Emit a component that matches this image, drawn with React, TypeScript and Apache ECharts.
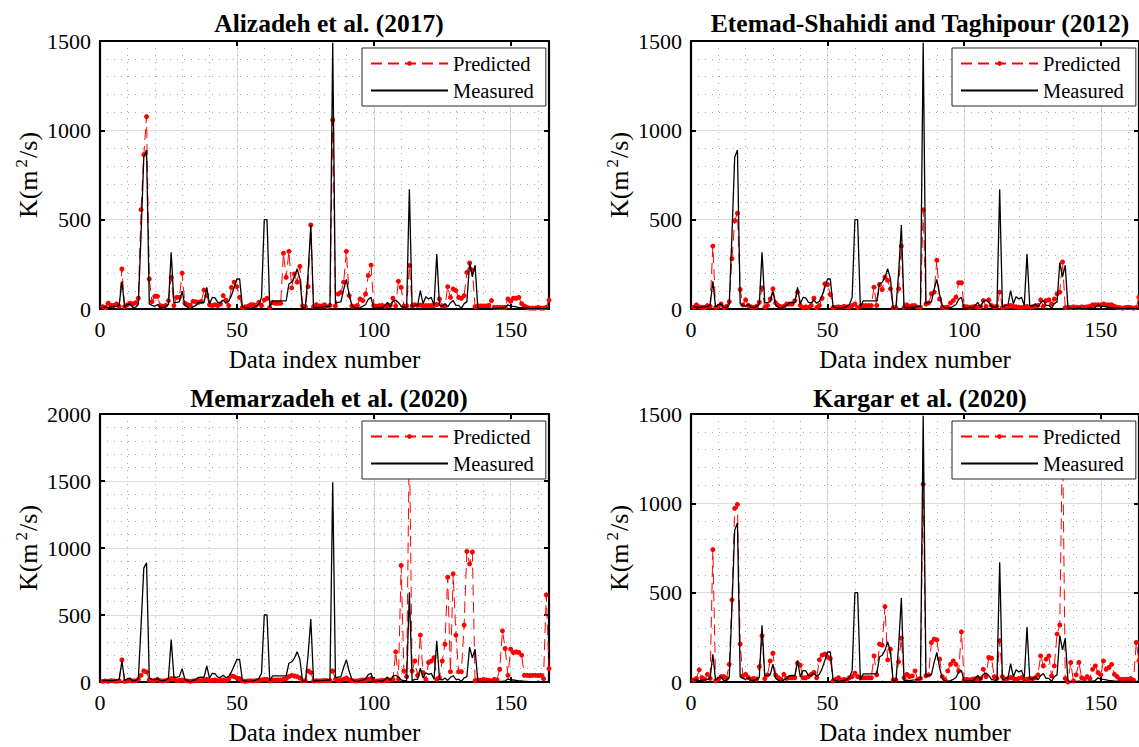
import React, { useEffect, useRef } from "react";
import * as echarts from "echarts";

// Data index numbers 1..164 (x values)
const X_MAX = 164;

// Measured K (m^2/s), shared by the four panels
const measured = [
  10, 12, 8, 10, 12, 15, 20, 155, 10, 25,
  28, 8, 10, 25, 420, 850, 890, 30, 20, 15,
  25, 10, 8, 15, 25, 317, 35, 37, 40, 100,
  20, 10, 0, 12, 20, 35, 37, 35, 121, 28,
  65, 62, 37, 35, 50, 32, 43, 75, 121, 168,
  168, 13, 8, 5, 5, 8, 15, 25, 65, 500,
  500, 10, 45, 45, 45, 45, 45, 45, 140, 150,
  177, 225, 170, 5, 5, 200, 470, 5, 10, 8,
  10, 12, 15, 15, 1490, 32, 37, 40, 110, 165,
  80, 20, 5, 5, 8, 15, 25, 55, 65, 2,
  5, 8, 5, 18, 37, 10, 43, 50, 37, 15,
  10, 10, 670, 10, 20, 20, 103, 30, 69, 56,
  65, 20, 308, 20, 15, 30, 12, 35, 47, 20,
  20, 5, 30, 40, 260, 180, 245, 5, 3, 2,
  3, 5, 3, 2, 3, 5, 5, 8, 24, 15,
  15, 12, 8, 8, 5, 5, 3, 2, 3, 5,
  3, 2, 3, 5,
];

// Predicted: Alizadeh et al. (2017)
const predAlizadeh = [
  13, 8, 32, 20, 20, 28, 15, 224, 13, 24,
  32, 28, 35, 60, 556, 864, 1077, 168, 41, 71,
  71, 19, 15, 20, 47, 177, 19, 65, 65, 201,
  32, 24, 20, 43, 40, 38, 42, 106, 75, 24,
  19, 24, 19, 28, 75, 50, 19, 121, 150, 125,
  65, 9, 12, 15, 24, 24, 20, 37, 19, 50,
  60, 9, 37, 32, 32, 32, 312, 177, 323, 118,
  196, 150, 239, 17, 13, 125, 470, 13, 24, 17,
  17, 24, 13, 20, 1058, 17, 84, 93, 150, 323,
  75, 17, 13, 20, 56, 47, 84, 187, 246, 19,
  15, 18, 20, 15, 18, 20, 60, 17, 155, 121,
  17, 17, 243, 17, 24, 20, 22, 18, 19, 19,
  19, 19, 25, 56, 17, 17, 125, 65, 112, 103,
  65, 60, 75, 205, 258, 218, 13, 17, 17, 17,
  17, 20, 47, 9, 9, 9, 9, 9, 56, 43,
  60, 60, 65, 30, 17, 9, 5, 5, 5, 9,
  5, 5, 9, 50,
];

// Predicted: Etemad-Shahidi and Taghipour (2012)
const predEtemad = [
  10, 23, 12, 10, 8, 19, 15, 352, 8, 15,
  28, 8, 15, 41, 282, 494, 536, 109, 23, 51,
  20, 12, 10, 15, 38, 118, 9, 20, 56, 113,
  34, 19, 12, 15, 28, 28, 28, 47, 94, 20,
  8, 12, 8, 20, 60, 8, 20, 60, 141, 137,
  81, 8, 10, 12, 10, 15, 12, 10, 19, 28,
  8, 15, 19, 19, 19, 19, 122, 20, 137, 109,
  179, 160, 113, 8, 8, 113, 352, 8, 23, 15,
  19, 19, 9, 9, 555, 28, 34, 85, 94, 273,
  56, 10, 8, 10, 34, 47, 66, 147, 147, 15,
  12, 10, 12, 15, 10, 12, 47, 15, 51, 19,
  12, 15, 94, 8, 15, 12, 20, 15, 12, 10,
  8, 12, 15, 10, 12, 15, 20, 51, 15, 47,
  51, 28, 56, 85, 94, 263, 8, 10, 8, 12,
  10, 8, 12, 10, 12, 15, 23, 23, 23, 23,
  28, 23, 23, 23, 15, 10, 8, 5, 8, 10,
  8, 5, 8, 66,
];

// Predicted: Memarzadeh et al. (2020)
const predMemarzadeh = [
  5, 8, 5, 10, 8, 5, 8, 165, 5, 8,
  10, 8, 10, 20, 50, 82, 75, 15, 10, 12,
  20, 10, 8, 10, 15, 25, 25, 10, 12, 15,
  10, 8, 5, 8, 10, 12, 10, 15, 20, 10,
  12, 15, 10, 12, 15, 10, 20, 45, 40, 30,
  25, 8, 5, 8, 10, 8, 10, 12, 15, 20,
  20, 8, 15, 15, 15, 15, 20, 25, 40, 50,
  45, 40, 30, 8, 10, 82, 70, 8, 10, 8,
  10, 12, 10, 10, 82, 20, 12, 15, 20, 30,
  15, 10, 8, 8, 12, 15, 12, 20, 25, 10,
  8, 10, 12, 10, 12, 15, 20, 225, 20, 870,
  82, 40, 1850, 82, 157, 50, 350, 70, 20, 145,
  157, 182, 20, 32, 157, 282, 782, 77, 807, 350,
  77, 77, 425, 975, 882, 970, 10, 15, 12, 20,
  15, 12, 10, 20, 15, 95, 382, 250, 50, 245,
  220, 225, 220, 200, 50, 50, 48, 50, 50, 48,
  50, 25, 650, 100,
];

// Predicted: Kargar et al. (2020)
const predKargar = [
  11, 20, 68, 24, 15, 43, 20, 741, 6, 15,
  30, 30, 20, 99, 460, 972, 994, 212, 34, 43,
  25, 15, 20, 15, 86, 259, 19, 40, 118, 161,
  38, 24, 15, 43, 20, 24, 24, 24, 105, 94,
  24, 24, 30, 43, 53, 24, 124, 150, 156, 140,
  131, 6, 15, 24, 11, 15, 11, 24, 30, 49,
  30, 24, 24, 24, 24, 24, 146, 40, 212, 206,
  422, 124, 184, 11, 11, 113, 246, 24, 43, 30,
  34, 62, 15, 20, 1107, 34, 40, 221, 240, 236,
  128, 30, 11, 62, 99, 118, 99, 62, 281, 11,
  15, 12, 15, 18, 15, 20, 71, 30, 137, 133,
  30, 20, 231, 30, 15, 20, 25, 20, 15, 20,
  24, 15, 15, 20, 18, 24, 40, 146, 90, 128,
  146, 34, 90, 268, 319, 1400, 20, 0, 109, 6,
  40, 109, 24, 15, 30, 20, 71, 90, 53, 40,
  118, 71, 81, 99, 43, 30, 15, 15, 15, 15,
  19, 10, 221, 120,
];

const titles = [
  "Alizadeh et al. (2017)",
  "Etemad-Shahidi and Taghipour (2012)",
  "Memarzadeh et al. (2020)",
  "Kargar et al. (2020)",
];
const yMaxes = [1500, 1500, 2000, 1500];
const predictions = [predAlizadeh, predEtemad, predMemarzadeh, predKargar];

const FONT = "'Liberation Serif', 'Times New Roman', serif";

const layout = [
  { left: 100, top: 41, width: 449, height: 268, titleX: 324, titleY: 5, legendX: 362, legendY: 48 },
  { left: 691, top: 41, width: 448, height: 268, titleX: 915, titleY: 5, legendX: 952, legendY: 48 },
  { left: 100, top: 414, width: 449, height: 268, titleX: 324, titleY: 380, legendX: 362, legendY: 421 },
  { left: 691, top: 414, width: 448, height: 268, titleX: 915, titleY: 380, legendX: 952, legendY: 421 },
];

function buildOption() {
  const option: any = {
    animation: false,
    backgroundColor: "#ffffff",
    title: [],
    grid: [],
    xAxis: [],
    yAxis: [],
    legend: [],
    series: [],
  };
  const frame = { show: true, onZero: false, lineStyle: { color: "#000", width: 2.2 } };
  const tick = { show: true, inside: true, length: 5, lineStyle: { color: "#000", width: 2 } };
  const minorDots = { color: "#a8a8a8", width: 1, type: [1, 6] };
  layout.forEach((L, k) => {
    option.title.push({
      text: titles[k],
      left: L.titleX,
      top: L.titleY,
      textAlign: "center",
      textStyle: { fontFamily: FONT, fontWeight: "bold", fontSize: 25.5, color: "#000" },
    });
    option.grid.push({ left: L.left, top: L.top, width: L.width, height: L.height, containLabel: false });
    // bottom x axis (labels, major grid)
    option.xAxis.push({
      type: "value", gridIndex: k, min: 0, max: X_MAX, interval: 50, position: "bottom",
      name: "Data index number", nameLocation: "middle", nameGap: 38,
      nameTextStyle: { fontFamily: FONT, fontSize: 25, color: "#000" },
      axisLine: frame, axisTick: tick,
      axisLabel: { show: true, fontFamily: FONT, fontSize: 22, color: "#000", margin: 9, showMaxLabel: false },
      splitLine: { show: true, lineStyle: { color: "#dcdcdc", width: 1 } },
    });
    // top x axis (frame + ticks)
    option.xAxis.push({
      type: "value", gridIndex: k, min: 0, max: X_MAX, interval: 50, position: "top",
      axisLine: frame, axisTick: tick, axisLabel: { show: false }, splitLine: { show: false },
    });
    // hidden x axis for dotted minor grid
    option.xAxis.push({
      type: "value", gridIndex: k, min: 0, max: X_MAX, interval: 10,
      axisLine: { show: false }, axisTick: { show: false }, axisLabel: { show: false },
      splitLine: { show: true, lineStyle: minorDots },
    });
    // left y axis
    option.yAxis.push({
      type: "value", gridIndex: k, min: 0, max: yMaxes[k], interval: 500, position: "left",
      name: "{a|K(m}{s|2}{a|/s)}", nameLocation: "middle", nameGap: 57, nameRotate: 90,
      nameTextStyle: {
        fontFamily: FONT, fontSize: 26, color: "#000",
        rich: {
          a: { fontFamily: FONT, fontSize: 26, color: "#000", lineHeight: 30 },
          s: { fontFamily: FONT, fontSize: 17, color: "#000", lineHeight: 30, verticalAlign: "top", padding: [0, 1, 0, 3] },
        },
      },
      axisLine: frame, axisTick: tick,
      axisLabel: { show: true, fontFamily: FONT, fontSize: 22, color: "#000", margin: 9, formatter: (v: number) => String(v) },
      splitLine: { show: true, lineStyle: { color: "#dcdcdc", width: 1 } },
      minorTick: { show: false, splitNumber: 5 },
      minorSplitLine: { show: true, lineStyle: minorDots },
    });
    // right y axis (frame + ticks)
    option.yAxis.push({
      type: "value", gridIndex: k, min: 0, max: yMaxes[k], interval: 500, position: "right",
      axisLine: frame, axisTick: tick, axisLabel: { show: false }, splitLine: { show: false },
    });
    option.legend.push({
      left: L.legendX, top: L.legendY, orient: "vertical",
      data: [
        { name: "Predicted" },
        { name: "Measured", itemStyle: { opacity: 0 } },
      ],
      itemWidth: 77, itemHeight: 6, itemGap: 6, padding: [5, 12, 5, 8],
      backgroundColor: "#ffffff", borderColor: "#262626", borderWidth: 1, borderRadius: 0,
      textStyle: { fontFamily: FONT, fontSize: 20.5, color: "#000" },
      selectedMode: false, z: 10,
    });
    option.series.push({
      type: "line", name: "Predicted", xAxisIndex: 3 * k, yAxisIndex: 2 * k,
      data: predictions[k].map((v, i) => [i + 1, v]),
      symbol: "circle", symbolSize: 5, showSymbol: true, clip: true,
      lineStyle: { color: "#ff0000", width: 1, type: [11, 6] },
      itemStyle: { color: "#ff0000" },
      z: 2,
    });
    option.series.push({
      type: "line", name: "Measured", xAxisIndex: 3 * k, yAxisIndex: 2 * k,
      data: measured.map((v, i) => [i + 1, v]),
      symbol: "none", clip: true,
      lineStyle: { color: "#000000", width: 1.3 },
      itemStyle: { color: "#000000" },
      z: 3,
    });
  });
  return option;
}

export default function App() {
  const ref = useRef<HTMLDivElement>(null);
  useEffect(() => {
    if (!ref.current) return;
    const chart = echarts.init(ref.current, undefined, { renderer: "svg" });
    chart.setOption(buildOption());
    return () => chart.dispose();
  }, []);
  return (
    <div
      ref={ref}
      style={{ position: "absolute", left: 0, top: 0, width: 1139, height: 747, background: "#fff" }}
    />
  );
}
